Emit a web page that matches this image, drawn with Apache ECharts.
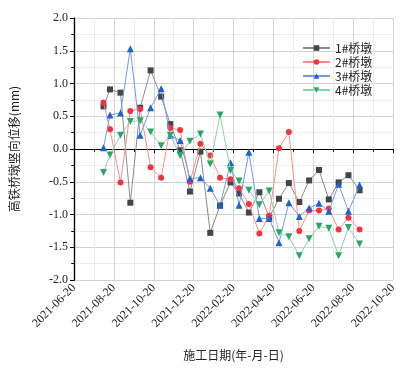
<!DOCTYPE html>
<html>
<head>
<meta charset="utf-8">
<script src="https://cdn.jsdelivr.net/npm/echarts@6/dist/echarts.min.js"></script>
<style>
  html, body { margin: 0; padding: 0; background: #fff; }
  #chart { width: 411px; height: 368px; }
</style>
</head>
<body>
<div id="chart"></div>
<script>
// measurement dates
const dates = [
  '2021-08-04', '2021-08-14', '2021-08-30', '2021-09-14', '2021-09-29', '2021-10-15',
  '2021-10-31', '2021-11-14', '2021-11-29', '2021-12-14', '2021-12-30', '2022-01-14',
  '2022-01-29', '2022-02-14', '2022-02-27', '2022-03-14', '2022-03-30', '2022-04-14',
  '2022-04-29', '2022-05-14', '2022-05-30', '2022-06-14', '2022-06-29', '2022-07-14',
  '2022-07-29', '2022-08-13', '2022-08-30'
]
const pier1 = [0.65, 0.91, 0.86, -0.82, 0.63, 1.20, 0.80, 0.38, -0.02, -0.65, -0.04, -1.28,
  -0.86, -0.51, -0.68, -0.97, -0.66, -1.04, -0.76, -0.52, -0.81, -0.48, -0.32, -0.77,
  -0.51, -0.40, -0.63]
const pier2 = [0.71, 0.30, -0.51, 0.58, 0.61, -0.28, -0.44, 0.32, 0.29, -0.50, 0.08, -0.10,
  -0.44, -0.46, -0.60, -0.84, -1.29, -1.02, 0.01, 0.26, -1.25, -0.94, -0.94, -0.91,
  -1.23, -1.05, -1.23]
const pier3 = [0.02, 0.52, 0.55, 1.53, 0.21, 0.63, 0.92, 0.21, 0.13, -0.45, -0.44, -0.60,
  -0.86, -0.21, -0.86, -0.05, -1.06, -1.06, -1.43, -0.82, -1.03, -0.90, -0.83, -0.95,
  -0.54, -0.95, -0.55]
const pier4 = [-0.36, -0.09, 0.21, 0.42, 0.43, 0.26, 0.05, 0.21, -0.10, 0.12, 0.23, -0.23,
  0.52, -0.33, -0.49, -0.63, -0.85, -0.64, -1.28, -1.34, -1.63, -1.37, -1.18, -1.21,
  -1.63, -1.20, -1.45]
const seriesNames = ['1#桥墩', '2#桥墩', '3#桥墩', '4#桥墩']
const xTickLabels = ['2021-06-20', '2021-08-20', '2021-10-20', '2021-12-20', '2022-02-20',
  '2022-04-20', '2022-06-20', '2022-08-20', '2022-10-20']

const startDay = Date.parse('2021-06-20')
const endDay = Date.parse('2022-10-20')
const dayMs = 86400000
const totalDays = (endDay - startDay) / dayMs
const xInterval = totalDays / 8

const toPoints = (vals) => vals.map((v, i) => [(Date.parse(dates[i]) - startDay) / dayMs, v])

const serifFont = "Liberation Serif, Times New Roman, serif"
const cjkFont = "Noto Sans CJK SC, Liberation Serif, serif"

const chart = echarts.init(document.getElementById('chart'))

const styles = [
  { line: '#8a8a8a', mark: '#454545', symbol: 'rect', rotate: 0, size: 6 },
  { line: '#ff8a8a', mark: '#f2333d', symbol: 'circle', rotate: 0, size: 6 },
  { line: '#6d9be6', mark: '#1f62cc', symbol: 'triangle', rotate: 0, size: 7 },
  { line: '#86d6a8', mark: '#2aa764', symbol: 'triangle', rotate: 180, size: 7 }
]
const allData = [pier1, pier2, pier3, pier4]

const option = {
  animation: false,
  grid: { left: 72, right: 18, top: 18, bottom: 88 },
  legend: {
    data: seriesNames,
    orient: 'vertical',
    left: 297,
    top: 37,
    itemWidth: 27,
    itemHeight: 7,
    itemGap: 2,
    textStyle: { fontFamily: cjkFont, fontSize: 12, color: '#222' }
  },
  xAxis: [
    {
      type: 'value',
      min: 0,
      max: totalDays,
      interval: xInterval,
      name: '施工日期(年-月-日)',
      nameLocation: 'middle',
      nameGap: 69,
      nameTextStyle: { fontFamily: cjkFont, fontSize: 12, color: '#222' },
      axisLine: { show: true, lineStyle: { color: '#000', width: 1.2 } },
      axisTick: { show: true, inside: false, length: 4, lineStyle: { color: '#000' } },
      minorTick: { show: true, splitNumber: 2, length: 2.5, lineStyle: { color: '#000' } },
      axisLabel: {
        rotate: 45,
        fontFamily: serifFont,
        fontSize: 12,
        color: '#222',
        margin: 6,
        formatter: (v) => xTickLabels[Math.round(v / xInterval)] || ''
      },
      splitLine: { show: true, lineStyle: { color: '#d2d2d2', width: 1 } },
      minorSplitLine: { show: true, lineStyle: { color: '#ececec', width: 1 } }
    },
    {
      type: 'value',
      position: 'top',
      min: 0,
      max: totalDays,
      interval: xInterval,
      axisLine: { show: true, lineStyle: { color: '#000', width: 1.2 } },
      axisTick: { show: true, inside: true, length: 4, lineStyle: { color: '#000' } },
      minorTick: { show: true, splitNumber: 2, length: 2.5, lineStyle: { color: '#000' } },
      axisLabel: { show: false },
      splitLine: { show: false }
    }
  ],
  yAxis: [
    {
      type: 'value',
      min: -2,
      max: 2,
      interval: 0.5,
      name: '高铁桥墩竖向位移(mm)',
      nameLocation: 'middle',
      nameGap: 54,
      nameTextStyle: { fontFamily: cjkFont, fontSize: 12, color: '#222' },
      axisLine: { show: true, lineStyle: { color: '#000', width: 1.2 } },
      axisTick: { show: true, inside: false, length: 4, lineStyle: { color: '#000' } },
      minorTick: { show: true, splitNumber: 2, length: 2.5, lineStyle: { color: '#000' } },
      axisLabel: {
        fontFamily: serifFont,
        fontSize: 12,
        color: '#222',
        margin: 6,
        formatter: (v) => v.toFixed(1)
      },
      splitLine: { show: true, lineStyle: { color: '#d2d2d2', width: 1 } },
      minorSplitLine: { show: true, lineStyle: { color: '#ececec', width: 1 } }
    },
    {
      type: 'value',
      position: 'right',
      min: -2,
      max: 2,
      interval: 0.5,
      axisLine: { show: true, lineStyle: { color: '#000', width: 1.2 } },
      axisTick: { show: true, inside: true, length: 4, lineStyle: { color: '#000' } },
      minorTick: { show: true, splitNumber: 2, length: 2.5, lineStyle: { color: '#000' } },
      axisLabel: { show: false },
      splitLine: { show: false }
    }
  ],
  series: allData.map((vals, i) => ({
    name: seriesNames[i],
    type: 'line',
    xAxisIndex: 0,
    yAxisIndex: 0,
    data: toPoints(vals),
    symbol: styles[i].symbol,
    symbolRotate: styles[i].rotate,
    symbolSize: styles[i].size,
    showAllSymbol: true,
    lineStyle: { color: styles[i].line, width: 1 },
    itemStyle: { color: styles[i].mark },
    z: 2 + i
  }))
}

chart.setOption(option)
</script>
</body>
</html>
